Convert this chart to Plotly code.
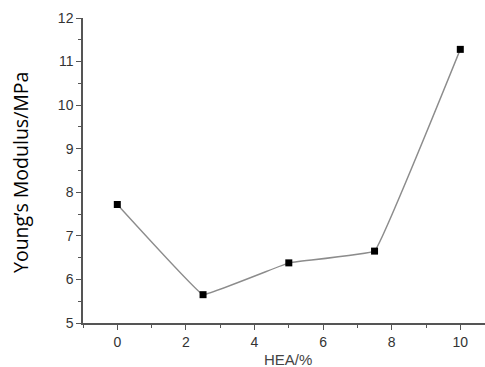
import plotly.graph_objects as go

hea = [0, 2.5, 5, 7.5, 10]
modulus = [7.72, 5.65, 6.38, 6.65, 11.28]
x_ticks = [0, 2, 4, 6, 8, 10]
y_ticks = [5, 6, 7, 8, 9, 10, 11, 12]

fig = go.Figure()
fig.add_trace(go.Scatter(
    x=hea, y=modulus, mode="lines+markers",
    line=dict(color="#8c8c8c", width=1.4, shape="spline", smoothing=0.15),
    marker=dict(symbol="square", size=7, color="black"),
    showlegend=False,
))

axis_common = dict(
    showline=True, linecolor="#555", linewidth=1.5, mirror=False,
    ticks="outside", ticklen=5, tickwidth=1.4, tickcolor="#555",
    showgrid=False, zeroline=False,
    tickfont=dict(family="Liberation Sans, Arial", size=14, color="#333"),
)

fig.update_xaxes(range=[-1, 10.72], tickvals=x_ticks, ticktext=[str(v) for v in x_ticks],
                 minor=dict(ticks="outside", ticklen=3, tickwidth=1.2, tickcolor="#555", dtick=1, tick0=0),
                 **axis_common)
fig.update_yaxes(range=[5, 12], tickvals=y_ticks, ticktext=[str(v) for v in y_ticks],
                 minor=dict(ticks="outside", ticklen=3, tickwidth=1.2, tickcolor="#555", dtick=0.5, tick0=0),
                 **axis_common)

fig.update_layout(
    width=485, height=367,
    margin=dict(l=83, r=0, t=18, b=44),
    paper_bgcolor="white", plot_bgcolor="white",
    annotations=[
        dict(text="HEA/%", xref="paper", yref="paper", x=(288 - 83) / 402, y=-36 / 305,
             xanchor="center", yanchor="middle", showarrow=False,
             font=dict(family="Liberation Sans, Arial", size=15, color="#444")),
        dict(text="Young\u2019s Modulus/MPa", xref="paper", yref="paper", x=-63 / 402, y=(323 - 173) / 305,
             xanchor="center", yanchor="middle", textangle=-90, showarrow=False,
             font=dict(family="Open Sans", size=19.5, color="black")),
    ],
)

fig.write_html("out.html")
